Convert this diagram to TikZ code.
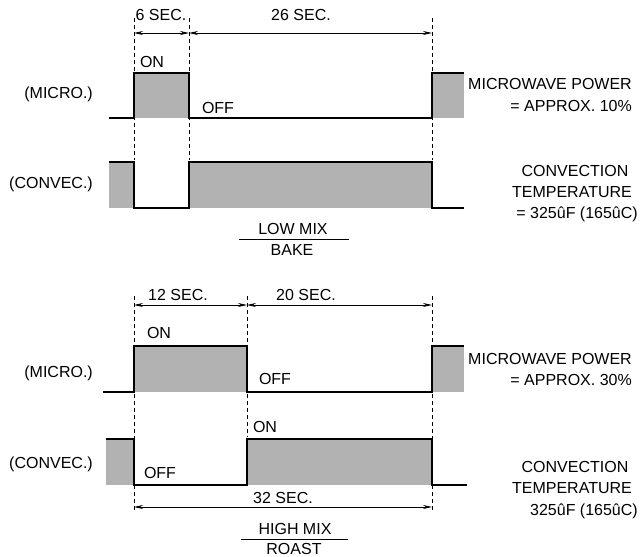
\documentclass[tikz,border=0pt]{standalone}
\usepackage{fontspec}
\setmainfont{Liberation Sans}
\usetikzlibrary{arrows.meta}
\begin{document}
\begin{tikzpicture}[x=1pt,y=-1pt,
  wave/.style={line width=2pt, line join=miter},
  fillg/.style={fill=black!30},
  guide/.style={line width=0.8pt, dash pattern=on 4pt off 3pt},
  dimline/.style={line width=0.8pt, {Stealth[length=9pt,width=4pt]}-{Stealth[length=9pt,width=4pt]}},
  mixline/.style={line width=0.9pt},
  lbl/.style={font=\fontsize{16}{19}\selectfont, inner sep=0pt, text height=11.5pt, text depth=0pt},
]
\useasboundingbox (0,0) rectangle (641,557);

% ===== top diagram =====
\fill[fillg] (134,73) rectangle (189,118);
\fill[fillg] (432,73) rectangle (464,118);
\fill[fillg] (109,162) rectangle (134,208);
\fill[fillg] (189,162) rectangle (432,208);

\draw[guide] (134,18) -- (134,160);
\draw[guide] (189,18) -- (189,160);
\draw[guide] (432,18) -- (432,160);

\draw[wave] (109,118) -- (134,118) -- (134,73) -- (189,73) -- (189,118) -- (432,118) -- (432,73) -- (464,73);
\draw[wave] (109,162) -- (134,162) -- (134,208) -- (189,208) -- (189,162) -- (432,162) -- (432,208) -- (464,208);

\coordinate (t1) at (134,33);
\coordinate (t2) at (189,33);
\coordinate (t3) at (432,33);
\draw[dimline] (t1) -- (t2);
\draw[dimline] (t2) -- (t3);

\node[lbl] (t6sec) at (161,15) {6 SEC.};
\node[lbl] (t26sec) at (301,15) {26 SEC.};
\node[lbl] (ton) at (152,62) {ON};
\node[lbl] (toff) at (218,108) {OFF};
\node[lbl, anchor=east] (tmicro) at (93,93) {(MICRO.)};
\node[lbl, anchor=east] (tconvec) at (93,182.5) {(CONVEC.)};
\node[lbl, anchor=east] (tmwp) at (632,84) {MICROWAVE POWER};
\node[lbl, anchor=east] (tapprox) at (632,106) {= APPROX. 10\%};
\node[lbl] (tconv) at (575,171) {CONVECTION};
\node[lbl, anchor=east] (ttemp) at (632,192) {TEMPERATURE};
\node[lbl, anchor=east] (tdeg) at (638,213) {= 325ûF (165ûC)};
\node[lbl] (tlow) at (293,229) {LOW MIX};
\node[lbl] (tbake) at (292,250) {BAKE};
\coordinate (tml) at (239,239);
\coordinate (tmr) at (349,239);
\draw[mixline] (tml) -- (tmr);

% ===== bottom diagram =====
\fill[fillg] (134,346) rectangle (247,392);
\fill[fillg] (432,346) rectangle (464,392);
\fill[fillg] (106,439) rectangle (134,485);
\fill[fillg] (247,439) rectangle (432,485);

\draw[guide] (134,296) -- (134,510);
\draw[guide] (247,296) -- (247,437);
\draw[guide] (432,296) -- (432,510);

\draw[wave] (103,392) -- (134,392) -- (134,346) -- (247,346) -- (247,392) -- (432,392) -- (432,346) -- (464,346);
\draw[wave] (106,439) -- (134,439) -- (134,485) -- (247,485) -- (247,439) -- (432,439) -- (432,485) -- (467,485);

\coordinate (b1) at (134,305);
\coordinate (b2) at (247,305);
\coordinate (b3) at (432,305);
\draw[dimline] (b1) -- (b2);
\draw[dimline] (b2) -- (b3);
\coordinate (c1) at (134,507);
\coordinate (c2) at (432,507);
\draw[dimline] (c1) -- (c2);

\node[lbl] (b12sec) at (178,295) {12 SEC.};
\node[lbl] (b20sec) at (306,295) {20 SEC.};
\node[lbl] (b32sec) at (283,498) {32 SEC.};
\node[lbl] (bon) at (159,333) {ON};
\node[lbl] (boff) at (275,379) {OFF};
\node[lbl] (bon2) at (265,427) {ON};
\node[lbl] (boff2) at (160,473) {OFF};
\node[lbl, anchor=east] (bmicro) at (93,372) {(MICRO.)};
\node[lbl, anchor=east] (bconvec) at (93,463) {(CONVEC.)};
\node[lbl, anchor=east] (bmwp) at (632,359) {MICROWAVE POWER};
\node[lbl, anchor=east] (bapprox) at (632,380) {= APPROX. 30\%};
\node[lbl] (bconv) at (575,467) {CONVECTION};
\node[lbl, anchor=east] (btemp) at (632,488) {TEMPERATURE};
\node[lbl, anchor=east] (bdeg) at (638,510) {325ûF (165ûC)};
\node[lbl] (bhigh) at (295,528.5) {HIGH MIX};
\node[lbl] (broast) at (294,548.5) {ROAST};
\coordinate (bml) at (241,539);
\coordinate (bmr) at (348,539);
\draw[mixline] (bml) -- (bmr);
\end{tikzpicture}
\end{document}
